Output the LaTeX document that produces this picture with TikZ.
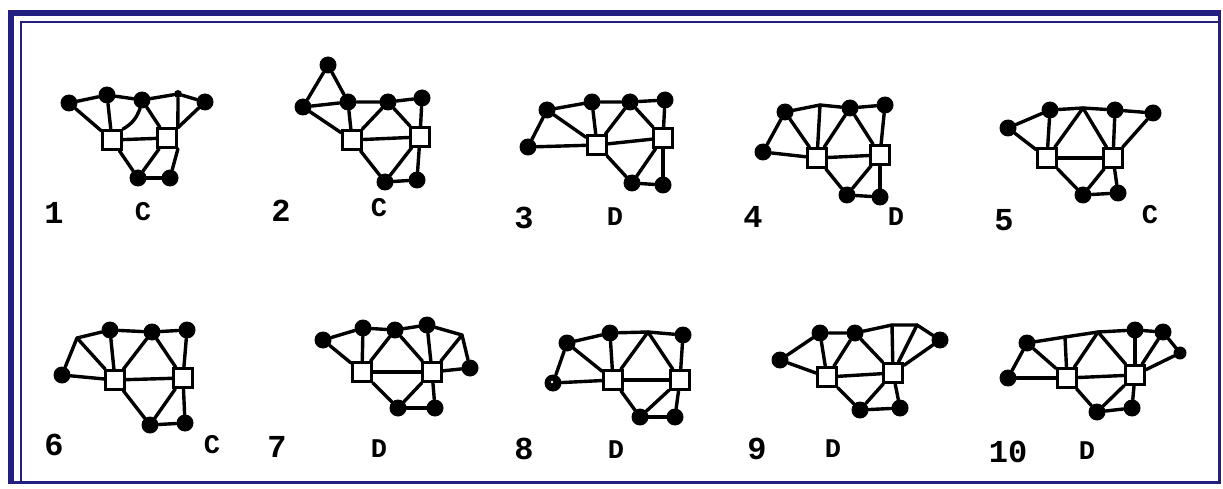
\documentclass[tikz,border=0pt]{standalone}
\usepackage{fontspec}
\setmonofont{Liberation Mono}
\definecolor{framenavy}{RGB}{35,31,128}
\begin{document}
\begin{tikzpicture}[x=1pt,y=-1pt,
  dot/.style={circle, fill=black, inner sep=0pt, minimum size=17pt},
  smalldot/.style={circle, fill=black, inner sep=0pt, minimum size=8pt},
  ringdot/.style={circle, fill=black, inner sep=0pt, minimum size=17pt,
    path picture={\fill[white] ([xshift=-1pt,yshift=1pt]path picture bounding box.center) circle (1.4pt);}},
  sq/.style={rectangle, draw=black, fill=white, line width=2.8pt, inner sep=0pt, minimum size=19pt},
  edge/.style={line width=3.4pt, line cap=round, line join=round},
  num/.style={font=\ttfamily\bfseries\fontsize{32}{32}\selectfont, inner sep=0pt},
  tag/.style={font=\ttfamily\bfseries\fontsize{27}{27}\selectfont, inner sep=0pt},
]
\useasboundingbox (0,0) rectangle (1223,489);
\fill[white] (0,0) rectangle (1223,489);

% double frame
\fill[framenavy] (8,10) rectangle (1221,16);
\fill[framenavy] (8,10) rectangle (14,484);
\fill[framenavy] (1218,10) rectangle (1221,484);
\fill[framenavy] (8,481) rectangle (1221,484);
\fill[framenavy] (20,21) rectangle (1218,23);
\fill[framenavy] (20,21) rectangle (22,481);

% ---------- graph 1 ----------
\node[dot] (A1a) at (69,103) {};
\node[dot] (A1b) at (107,95) {};
\node[dot] (A1c) at (142,100) {};
\node[smalldot] (A1d) at (178,94) {};
\node[dot] (A1e) at (205,102) {};
\node[sq] (A1L) at (112,140) {};
\node[sq] (A1R) at (167,138) {};
\node[dot] (A1f) at (138,178) {};
\node[dot] (A1g) at (170,178) {};
\draw[edge] (A1a) -- (A1b) -- (A1c) -- (A1d) -- (A1e);
\draw[edge] (A1a) -- (A1L);
\draw[edge] (A1b) -- (A1L);
\draw[edge] (A1c) to[bend left=20] (A1L.north east);
\draw[edge] (A1c) -- (A1R);
\draw[edge] (A1d) -- (A1R.north east);
\draw[edge] (A1e) -- (A1R);
\draw[edge] (A1L) -- (A1R);
\draw[edge] (A1L) -- (A1f);
\draw[edge] (A1R) -- (A1f);
\draw[edge] (A1f) -- (A1g);
\draw[edge] (A1R.south east) -- (A1g);
\node[num] (N1) at (54,213) {1};
\node[tag] (T1) at (143,212) {C};

% ---------- graph 2 ----------
\node[dot] (A2t) at (328,65) {};
\node[dot] (A2a) at (303,107) {};
\node[dot] (A2b) at (348,102) {};
\node[dot] (A2c) at (388,102) {};
\node[dot] (A2d) at (422,98) {};
\node[sq] (A2L) at (352,140) {};
\node[sq] (A2R) at (420,137) {};
\node[dot] (A2f) at (385,182) {};
\node[dot] (A2g) at (417,180) {};
\draw[edge] (A2t) -- (A2a);
\draw[edge] (A2t) -- (A2b);
\draw[edge] (A2a) -- (A2b) -- (A2c) -- (A2d);
\draw[edge] (A2a) -- (A2L);
\draw[edge] (A2b) -- (A2L);
\draw[edge] (A2c) -- (A2L);
\draw[edge] (A2c) -- (A2R);
\draw[edge] (A2d) -- (A2R);
\draw[edge] (A2L) -- (A2R);
\draw[edge] (A2L) -- (A2f);
\draw[edge] (A2R) -- (A2f);
\draw[edge] (A2f) -- (A2g);
\draw[edge] (A2R) -- (A2g);
\node[num] (N2) at (281,211) {2};
\node[tag] (T2) at (379,208) {C};

% ---------- graph 3 ----------
\node[dot] (A3a) at (528,147) {};
\node[dot] (A3b) at (547,110) {};
\node[dot] (A3c) at (592,102) {};
\node[dot] (A3d) at (630,102) {};
\node[dot] (A3e) at (665,100) {};
\node[sq] (A3L) at (597,145) {};
\node[sq] (A3R) at (663,138) {};
\node[dot] (A3f) at (632,183) {};
\node[dot] (A3g) at (663,185) {};
\draw[edge] (A3a) -- (A3b) -- (A3c) -- (A3d) -- (A3e);
\draw[edge] (A3a) -- (A3L);
\draw[edge] (A3b) -- (A3L);
\draw[edge] (A3c) -- (A3L);
\draw[edge] (A3d) -- (A3L);
\draw[edge] (A3d) -- (A3R);
\draw[edge] (A3e) -- (A3R);
\draw[edge] (A3L) -- (A3R);
\draw[edge] (A3L) -- (A3f);
\draw[edge] (A3R) -- (A3f);
\draw[edge] (A3f) -- (A3g);
\draw[edge] (A3R) -- (A3g);
\node[num] (N3) at (524,218) {3};
\node[tag] (T3) at (615,217) {D};

% ---------- graph 4 ----------
\node[dot] (A4a) at (763,152) {};
\node[dot] (A4b) at (785,112) {};
\coordinate (A4j) at (820,105);
\node[dot] (A4c) at (850,108) {};
\node[dot] (A4d) at (885,105) {};
\node[sq] (A4L) at (817,158) {};
\node[sq] (A4R) at (880,155) {};
\node[dot] (A4f) at (847,195) {};
\node[dot] (A4g) at (880,197) {};
\draw[edge] (A4a) -- (A4b) -- (A4j) -- (A4c) -- (A4d);
\draw[edge] (A4a) -- (A4L);
\draw[edge] (A4b) -- (A4L);
\draw[edge] (A4j) -- (A4L);
\draw[edge] (A4c) -- (A4L);
\draw[edge] (A4c) -- (A4R);
\draw[edge] (A4d) -- (A4R);
\draw[edge] (A4L) -- (A4R);
\draw[edge] (A4L) -- (A4f);
\draw[edge] (A4R) -- (A4f);
\draw[edge] (A4f) -- (A4g);
\draw[edge] (A4R) -- (A4g);
\node[num] (N4) at (753,217) {4};
\node[tag] (T4) at (896,217) {D};

% ---------- graph 5 ----------
\node[dot] (A5a) at (1008,128) {};
\node[dot] (A5b) at (1050,110) {};
\coordinate (A5j) at (1083,108);
\node[dot] (A5c) at (1115,110) {};
\node[dot] (A5d) at (1153,113) {};
\node[sq] (A5L) at (1047,158) {};
\node[sq] (A5R) at (1113,158) {};
\node[dot] (A5f) at (1083,195) {};
\node[dot] (A5g) at (1118,193) {};
\draw[edge] (A5a) -- (A5b) -- (A5j) -- (A5c) -- (A5d);
\draw[edge] (A5a) -- (A5L);
\draw[edge] (A5b) -- (A5L);
\draw[edge] (A5j) -- (A5L);
\draw[edge] (A5j) -- (A5R);
\draw[edge] (A5c) -- (A5R);
\draw[edge] (A5d) -- (A5R);
\draw[edge] (A5L) -- (A5R);
\draw[edge] (A5L) -- (A5f);
\draw[edge] (A5R) -- (A5f);
\draw[edge] (A5f) -- (A5g);
\draw[edge] (A5R) -- (A5g);
\node[num] (N5) at (1004,220) {5};
\node[tag] (T5) at (1150,215) {C};

% ---------- graph 6 ----------
\node[dot] (A6a) at (62,375) {};
\coordinate (A6j) at (77,338);
\node[dot] (A6b) at (110,330) {};
\node[dot] (A6c) at (152,332) {};
\node[dot] (A6d) at (187,330) {};
\node[sq] (A6L) at (115,380) {};
\node[sq] (A6R) at (183,378) {};
\node[dot] (A6f) at (150,425) {};
\node[dot] (A6g) at (185,423) {};
\draw[edge] (A6a) -- (A6j) -- (A6b) -- (A6c) -- (A6d);
\draw[edge] (A6a) -- (A6L);
\draw[edge] (A6j) -- (A6L);
\draw[edge] (A6b) -- (A6L);
\draw[edge] (A6c) -- (A6L);
\draw[edge] (A6c) -- (A6R);
\draw[edge] (A6d) -- (A6R);
\draw[edge] (A6L) -- (A6R);
\draw[edge] (A6L) -- (A6f);
\draw[edge] (A6R) -- (A6f);
\draw[edge] (A6f) -- (A6g);
\draw[edge] (A6R) -- (A6g);
\node[num] (N6) at (54,445) {6};
\node[tag] (T6) at (212,445) {C};

% ---------- graph 7 ----------
\node[dot] (A7a) at (323,340) {};
\node[dot] (A7b) at (363,328) {};
\node[dot] (A7c) at (395,330) {};
\node[dot] (A7d) at (427,325) {};
\coordinate (A7j) at (462,335);
\node[dot] (A7e) at (470,368) {};
\node[sq] (A7L) at (362,372) {};
\node[sq] (A7R) at (432,372) {};
\node[dot] (A7f) at (398,408) {};
\node[dot] (A7g) at (435,408) {};
\draw[edge] (A7a) -- (A7b) -- (A7c) -- (A7d) -- (A7j) -- (A7e);
\draw[edge] (A7a) -- (A7L);
\draw[edge] (A7b) -- (A7L);
\draw[edge] (A7c) -- (A7L);
\draw[edge] (A7c) -- (A7R);
\draw[edge] (A7d) -- (A7R);
\draw[edge] (A7j) -- (A7R);
\draw[edge] (A7e) -- (A7R);
\draw[edge] (A7L) -- (A7R);
\draw[edge] (A7L) -- (A7f);
\draw[edge] (A7R) -- (A7f);
\draw[edge] (A7f) -- (A7g);
\draw[edge] (A7R) -- (A7g);
\node[num] (N7) at (277,447) {7};
\node[tag] (T7) at (379,449) {D};

% ---------- graph 8 ----------
\node[ringdot] (A8a) at (553,383) {};
\node[dot] (A8b) at (567,343) {};
\node[dot] (A8c) at (610,333) {};
\coordinate (A8j) at (648,332);
\node[dot] (A8d) at (683,335) {};
\node[sq] (A8L) at (613,380) {};
\node[sq] (A8R) at (680,380) {};
\node[dot] (A8f) at (640,417) {};
\node[dot] (A8g) at (675,417) {};
\draw[edge] (A8a) -- (A8b) -- (A8c) -- (A8j) -- (A8d);
\draw[edge] (A8a) -- (A8L);
\draw[edge] (A8b) -- (A8L);
\draw[edge] (A8c) -- (A8L);
\draw[edge] (A8j) -- (A8L);
\draw[edge] (A8j) -- (A8R);
\draw[edge] (A8d) -- (A8R);
\draw[edge] (A8L) -- (A8R);
\draw[edge] (A8L) -- (A8f);
\draw[edge] (A8R) -- (A8f);
\draw[edge] (A8f) -- (A8g);
\draw[edge] (A8R) -- (A8g);
\node[num] (N8) at (524,449) {8};
\node[tag] (T8) at (616,450) {D};

% ---------- graph 9 ----------
\node[dot] (A9a) at (780,360) {};
\node[dot] (A9b) at (820,333) {};
\node[dot] (A9c) at (855,333) {};
\coordinate (A9j) at (892,325);
\coordinate (A9k) at (917,325);
\node[dot] (A9d) at (940,340) {};
\node[sq] (A9L) at (827,377) {};
\node[sq] (A9R) at (893,373) {};
\node[dot] (A9f) at (860,410) {};
\node[dot] (A9g) at (900,408) {};
\draw[edge] (A9a) -- (A9b) -- (A9c) -- (A9j) -- (A9k) -- (A9d);
\draw[edge] (A9a) -- (A9L);
\draw[edge] (A9b) -- (A9L);
\draw[edge] (A9c) -- (A9L);
\draw[edge] (A9c) -- (A9R);
\draw[edge] (A9j) -- (A9R);
\draw[edge] (A9k) -- (A9R);
\draw[edge] (A9d) -- (A9R);
\draw[edge] (A9L) -- (A9R);
\draw[edge] (A9L) -- (A9f);
\draw[edge] (A9R) -- (A9f);
\draw[edge] (A9f) -- (A9g);
\draw[edge] (A9R) -- (A9g);
\node[num] (N9) at (757,449) {9};
\node[tag] (T9) at (833,449) {D};

% ---------- graph 10 ----------
\node[dot] (A10a) at (1008,378) {};
\node[dot] (A10b) at (1027,343) {};
\coordinate (A10j) at (1065,337);
\coordinate (A10k) at (1098,332);
\node[dot] (A10c) at (1135,330) {};
\node[dot] (A10d) at (1163,332) {};
\node[dot, minimum size=13pt] (A10e) at (1180,353) {};
\node[sq] (A10L) at (1067,378) {};
\node[sq] (A10R) at (1135,375) {};
\node[dot] (A10f) at (1097,412) {};
\node[dot] (A10g) at (1132,408) {};
\draw[edge] (A10a) -- (A10b) -- (A10j) -- (A10k) -- (A10c) -- (A10d) -- (A10e);
\draw[edge] (A10a) -- (A10L);
\draw[edge] (A10b) -- (A10L);
\draw[edge] (A10j) -- (A10L);
\draw[edge] (A10k) -- (A10L);
\draw[edge] (A10k) -- (A10R);
\draw[edge] (A10c) -- (A10R);
\draw[edge] (A10d) -- (A10R);
\draw[edge] (A10e) -- (A10R);
\draw[edge] (A10L) -- (A10R);
\draw[edge] (A10L) -- (A10f);
\draw[edge] (A10R) -- (A10f);
\draw[edge] (A10f) -- (A10g);
\draw[edge] (A10R) -- (A10g);
\node[num] (N10) at (1008,452) {10};
\node[tag] (T10) at (1087,451) {D};
\end{tikzpicture}
\end{document}
